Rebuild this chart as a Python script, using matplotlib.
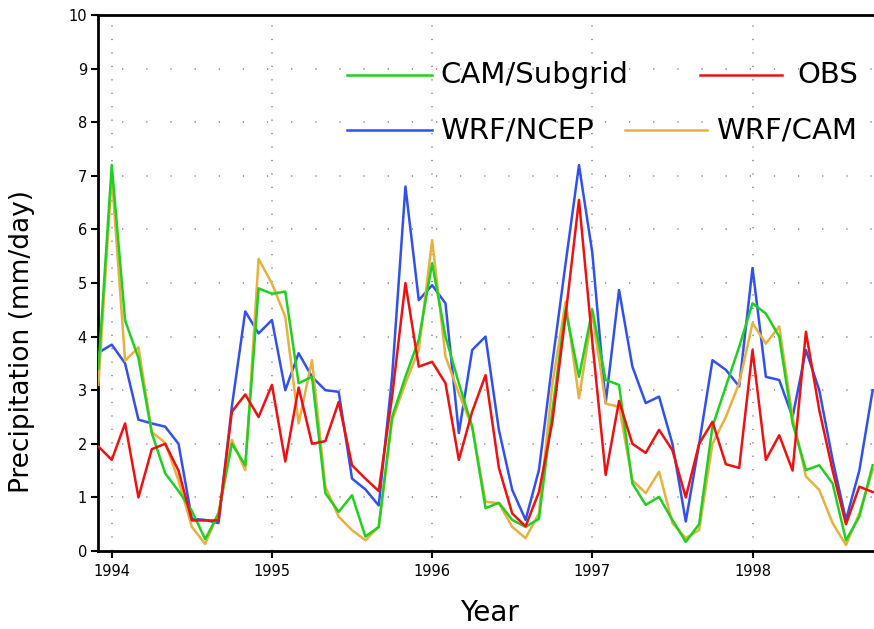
import matplotlib
matplotlib.use("Agg")
from matplotlib import pyplot as plt
import numpy as np

# month index: -1 = Dec 1993, 0 = Jan 1994 ... 57 = Oct 1998
months = np.arange(-1, 58)

obs = [1.95, 1.70, 2.38, 1.00, 1.90, 2.00, 1.50, 0.57, 0.57, 0.57,
       2.60, 2.92, 2.50, 3.10, 1.67, 3.05, 2.00, 2.05, 2.78, 1.60,
       1.35, 1.12, 2.88, 5.00, 3.44, 3.53, 3.13, 1.70, 2.60, 3.28,
       1.55, 0.70, 0.46, 1.10, 2.40, 4.40, 6.55, 3.90, 1.42, 2.80,
       2.00, 1.83, 2.26, 1.88, 1.00, 2.00, 2.41, 1.62, 1.55, 3.75,
       1.70, 2.16, 1.50, 4.09, 2.63, 1.50, 0.50, 1.20, 1.10]

wrf_ncep = [3.70, 3.85, 3.50, 2.45, 2.38, 2.32, 2.00, 0.60, 0.58, 0.52,
            2.70, 4.47, 4.06, 4.31, 3.00, 3.69, 3.25, 3.00, 2.97, 1.35,
            1.15, 0.85, 3.25, 6.80, 4.68, 4.96, 4.62, 2.20, 3.75, 4.00,
            2.26, 1.14, 0.58, 1.51, 3.50, 5.37, 7.20, 5.56, 2.76, 4.87,
            3.44, 2.76, 2.88, 2.00, 0.55, 2.00, 3.56, 3.38, 3.07, 5.28,
            3.25, 3.19, 2.50, 3.75, 3.00, 1.70, 0.58, 1.50, 3.00]

cam_subgrid = [3.40, 7.20, 4.30, 3.60, 2.20, 1.45, 1.12, 0.75, 0.22, 0.70,
               2.00, 1.60, 4.90, 4.80, 4.84, 3.13, 3.25, 1.08, 0.73, 1.04,
               0.27, 0.45, 2.50, 3.25, 3.94, 5.37, 4.00, 3.13, 2.32, 0.80,
               0.90, 0.58, 0.45, 0.60, 2.60, 4.50, 3.25, 4.50, 3.19, 3.10,
               1.26, 0.86, 1.01, 0.58, 0.17, 0.50, 2.32, 3.07, 3.81, 4.62,
               4.43, 4.00, 2.38, 1.51, 1.60, 1.26, 0.20, 0.64, 1.60]

wrf_cam = [3.10, 7.00, 3.55, 3.80, 2.22, 2.02, 1.32, 0.45, 0.13, 0.72,
           2.07, 1.51, 5.45, 4.99, 4.37, 2.38, 3.56, 1.20, 0.64, 0.39,
           0.20, 0.45, 2.44, 3.13, 3.75, 5.80, 3.63, 2.94, 2.32, 0.92,
           0.89, 0.45, 0.24, 0.70, 3.10, 4.65, 2.85, 4.43, 2.75, 2.69,
           1.32, 1.08, 1.48, 0.52, 0.24, 0.39, 2.00, 2.50, 3.13, 4.25,
           3.87, 4.19, 2.50, 1.39, 1.14, 0.52, 0.11, 0.70, 1.51]

year_ticks = [0, 12, 24, 36, 48]
year_labels = ["1994", "1995", "1996", "1997", "1998"]

c_green = "#1fd11f"
c_blue = "#3050f0"
c_red = "#f01010"
c_orange = "#e8b040"

fig = plt.figure(figsize=(8.74, 6.29), dpi=100)
ax = fig.add_axes([98 / 874, 78 / 629, 776 / 874, 536 / 629])

ax.plot(months, wrf_ncep, color=c_blue, lw=1.8, zorder=3)
ax.plot(months, wrf_cam, color=c_orange, lw=1.8, zorder=4)
ax.plot(months, cam_subgrid, color=c_green, lw=1.8, zorder=5)
ax.plot(months, obs, color=c_red, lw=1.8, zorder=6)

ax.set_xlim(-1.03, 57.1)
ax.set_ylim(0, 10)

# dotted grid
for yv in range(1, 10):
    ax.axhline(yv, color="#808080", lw=1.1, ls=(0, (0.8, 15)), zorder=1)
for xv in year_ticks:
    ax.axvline(xv, color="#808080", lw=1.1, ls=(0, (0.8, 8)), zorder=1)

ax.set_xticks(year_ticks)
ax.set_xticklabels(year_labels, fontsize=10.5)
ax.set_yticks(range(0, 11))
ax.set_yticklabels([str(i) for i in range(0, 11)], fontsize=10.5)
ax.tick_params(axis="both", direction="out", length=5, width=1.5, pad=3)
ax.tick_params(axis="x", pad=4)

for s in ["left", "bottom", "top"]:
    ax.spines[s].set_linewidth(2)
ax.spines["right"].set_visible(False)

ax.set_ylabel("Precipitation (mm/day)", fontsize=19)
ax.yaxis.set_label_coords(-0.081, 0.39)
ax.set_xlabel("Year", fontsize=20)
ax.xaxis.set_label_coords(0.505, -0.09)

# legend, laid out like the original
def key(x0, x1, y, color, label, tx):
    ax.plot([x0, x1], [y, y], color=color, lw=1.8, transform=ax.transAxes, clip_on=False)
    ax.text(tx, y, label, transform=ax.transAxes, fontsize=21, va="center", ha="left")

key(0.321, 0.430, 0.888, c_green, "CAM/Subgrid", 0.441)
key(0.776, 0.881, 0.888, c_red, "OBS", 0.901)
key(0.321, 0.430, 0.785, c_blue, "WRF/NCEP", 0.441)
key(0.679, 0.785, 0.785, c_orange, "WRF/CAM", 0.796)

fig.savefig("out.png", dpi=100)
